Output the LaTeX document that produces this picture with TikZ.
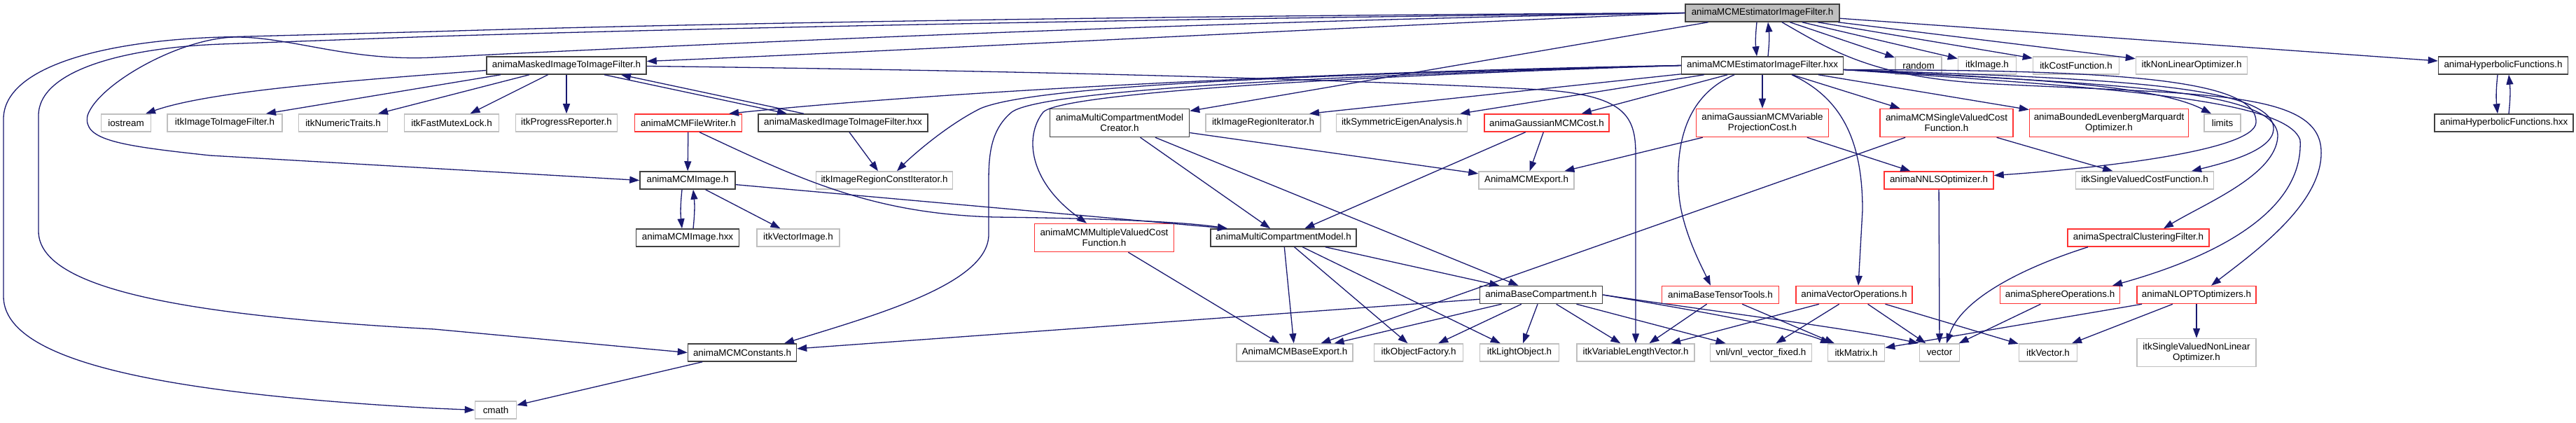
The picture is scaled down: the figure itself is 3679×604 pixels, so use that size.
\documentclass[tikz,border=0pt]{standalone}
\usepackage{fontspec}
\setmainfont{Liberation Sans}
\usepackage{tikz}
\usetikzlibrary{arrows.meta}
\definecolor{edgeblue}{RGB}{25,25,112}
\definecolor{docline}{RGB}{64,64,64}
\definecolor{extline}{RGB}{191,191,191}
\definecolor{cutline}{RGB}{255,51,51}
\definecolor{rootfill}{RGB}{191,191,191}
\def\RowA{18.5}
\def\RowB{93.5}
\def\RowC{175.5}
\def\RowD{257.5}
\def\RowE{339.5}
\def\RowF{421}
\def\RowG{503.5}
\def\RowH{585.5}
\tikzset{
  hdr/.style={
    draw=#1, fill=white, line width=1.5pt,
    minimum height=25pt, inner sep=0pt,
    align=center, font=\fontsize{13.4}{15}\selectfont,
  },
  hdr/.default=docline,
  twoline/.style={minimum height=40pt},
  dep/.style={-{Triangle[length=14pt,width=10pt]}, line width=1.3pt, draw=edgeblue},
}
\begin{document}
\begin{tikzpicture}[x=1pt,y=-1pt]
  \useasboundingbox (0,0) rectangle (3679,604);

  % row A
  \node[hdr, fill=rootfill, minimum width=220pt] (est) at (2517,\RowA) {animaMCMEstimatorImageFilter.h};

  % row B
  \node[hdr, minimum width=228pt] (maskh) at (809,\RowB) {animaMaskedImageToImageFilter.h};
  \node[hdr, minimum width=231pt] (esthxx) at (2517,\RowB) {animaMCMEstimatorImageFilter.hxx};
  \node[hdr=extline, minimum width=66pt] (rnd) at (2740,\RowB) {random};
  \node[hdr=extline, minimum width=83pt] (itkimg) at (2838,\RowB) {itkImage.h};
  \node[hdr=extline, minimum width=123pt] (costfn) at (2965,\RowB) {itkCostFunction.h};
  \node[hdr=extline, minimum width=159pt] (nonlin) at (3130,\RowB) {itkNonLinearOptimizer.h};
  \node[hdr, minimum width=185pt] (hyph) at (3575,\RowB) {animaHyperbolicFunctions.h};

  % row C
  \node[hdr=extline, minimum width=71pt] (iost) at (180,\RowC) {iostream};
  \node[hdr=extline, minimum width=164pt] (i2i) at (321,\RowC) {itkImageToImageFilter.h};
  \node[hdr=extline, minimum width=127pt] (numt) at (490,\RowC) {itkNumericTraits.h};
  \node[hdr=extline, minimum width=135pt] (mutex) at (645,\RowC) {itkFastMutexLock.h};
  \node[hdr=extline, minimum width=145pt] (prog) at (809,\RowC) {itkProgressReporter.h};
  \node[hdr=cutline, minimum width=153pt] (fwr) at (983,\RowC) {animaMCMFileWriter.h};
  \node[hdr, minimum width=242pt] (maskhxx) at (1204,\RowC) {animaMaskedImageToImageFilter.hxx};
  \node[hdr, twoline, minimum width=199pt] (creator) at (1599,\RowC) {animaMultiCompartmentModel\\Creator.h};
  \node[hdr=extline, minimum width=164pt] (rit) at (1804,\RowC) {itkImageRegionIterator.h};
  \node[hdr=extline, minimum width=187pt] (eig) at (2002,\RowC) {itkSymmetricEigenAnalysis.h};
  \node[hdr=cutline, minimum width=178pt] (gcost) at (2209,\RowC) {animaGaussianMCMCost.h};
  \node[hdr=cutline, twoline, minimum width=189pt] (vpcost) at (2517,\RowC) {animaGaussianMCMVariable\\ProjectionCost.h};
  \node[hdr=cutline, twoline, minimum width=190pt] (svcost) at (2780,\RowC) {animaMCMSingleValuedCost\\Function.h};
  \node[hdr=cutline, twoline, minimum width=227pt] (blm) at (3012,\RowC) {animaBoundedLevenbergMarquardt\\Optimizer.h};
  \node[hdr=extline, minimum width=52pt] (lim) at (3174,\RowC) {limits};
  \node[hdr, minimum width=198pt] (hyphxx) at (3576,\RowC) {animaHyperbolicFunctions.hxx};

  % row D
  \node[hdr, minimum width=136pt] (mcmimg) at (982,\RowD) {animaMCMImage.h};
  \node[hdr=extline, minimum width=195pt] (rcit) at (1263,\RowD) {itkImageRegionConstIterator.h};
  \node[hdr=extline, minimum width=136pt] (mcmexp) at (2180,\RowD) {AnimaMCMExport.h};
  \node[hdr=cutline, minimum width=156pt] (nnls) at (2769,\RowD) {animaNNLSOptimizer.h};
  \node[hdr=extline, minimum width=197pt] (svcf) at (3063,\RowD) {itkSingleValuedCostFunction.h};

  % row E
  \node[hdr, minimum width=147pt] (mcmimghxx) at (982,\RowE) {animaMCMImage.hxx};
  \node[hdr=extline, minimum width=118pt] (vimg) at (1140,\RowE) {itkVectorImage.h};
  \node[hdr=cutline, twoline, minimum width=199pt] (mvcost) at (1577,\RowE) {animaMCMMultipleValuedCost\\Function.h};
  \node[hdr, minimum width=208pt] (mcm) at (1833,\RowE) {animaMultiCompartmentModel.h};
  \node[hdr=cutline, minimum width=202pt] (spec) at (3054,\RowE) {animaSpectralClusteringFilter.h};

  % row F
  \node[hdr, minimum width=175pt] (basec) at (2201,\RowF) {animaBaseCompartment.h};
  \node[hdr=cutline, minimum width=167pt] (tensor) at (2457,\RowF) {animaBaseTensorTools.h};
  \node[hdr=cutline, minimum width=166pt] (vecops) at (2648,\RowF) {animaVectorOperations.h};
  \node[hdr=cutline, minimum width=171pt] (sphere) at (2942,\RowF) {animaSphereOperations.h};
  \node[hdr=cutline, minimum width=170pt] (nloptopt) at (3137,\RowF) {animaNLOPTOptimizers.h};

  % row G
  \node[hdr, minimum width=155pt] (mcmconst) at (1060,\RowG) {animaMCMConstants.h};
  \node[hdr=extline, minimum width=166pt] (bexp) at (1849,\RowG) {AnimaMCMBaseExport.h};
  \node[hdr=extline, minimum width=127pt] (objf) at (2026,\RowG) {itkObjectFactory.h};
  \node[hdr=extline, minimum width=113pt] (lobj) at (2170,\RowG) {itkLightObject.h};
  \node[hdr=extline, minimum width=168pt] (vlv) at (2336,\RowG) {itkVariableLengthVector.h};
  \node[hdr=extline, minimum width=145pt] (vnl) at (2515,\RowG) {vnl/vnl\_vector\_fixed.h};
  \node[hdr=extline, minimum width=81pt] (mat) at (2651,\RowG) {itkMatrix.h};
  \node[hdr=extline, minimum width=57pt] (vec) at (2770,\RowG) {vector};
  \node[hdr=extline, minimum width=83pt] (itkvec) at (2925,\RowG) {itkVector.h};
  \node[hdr=extline, twoline, minimum width=170pt] (svnlo) at (3137,\RowG) {itkSingleValuedNonLinear\\Optimizer.h};

  % row H
  \node[hdr=extline, minimum width=59pt] (cmath) at (708,\RowH) {cmath};

  % root includes
  \draw[dep] ([xshift=-8pt]est.south) to[bend right=6] ([xshift=-8pt]esthxx.north);
  \draw[dep] ([xshift=8pt]esthxx.north) to[bend right=6] ([xshift=8pt]est.south);
  \draw[dep] (est.west) .. controls (2000,35) and (1300,72) .. ([yshift=6pt]maskh.east);
  \draw[dep] (est.west) .. controls (1700,30) and (900,68) .. (620,82)
    .. controls (500,88) and (420,54) .. (340,53) .. controls (260,52) and (140,120) .. (125,165)
    .. controls (118,200) and (170,208) .. (300,222) -- (mcmimg.west);
  \draw[dep] (est.west) .. controls (1700,26) and (1000,40) .. (620,52) -- (316,63)
    .. controls (180,68) and (55,100) .. (55,165) -- (55,330)
    .. controls (55,410) and (250,450) .. (620,470) -- (mcmconst.west);
  \draw[dep] (est.west) .. controls (1700,22) and (1000,33) .. (620,45) -- (316,53)
    .. controls (150,58) and (5,95) .. (5,170) -- (5,423)
    .. controls (5,510) and (200,560) .. (620,583) -- (cmath.west);
  \draw[dep] (est) -- (creator);
  \draw[dep] (est) -- (rnd);
  \draw[dep] (est) -- (itkimg);
  \draw[dep] (est) -- (costfn);
  \draw[dep] (est) -- (nonlin);
  \draw[dep] (est) -- (hyph);
  \draw[dep] ([xshift=28pt]est.south) .. controls (2620,75) and (2680,112) .. (2850,120)
    .. controls (3150,135) and (3312,130) .. (3315,215)
    .. controls (3318,290) and (3220,360) .. ([xshift=21pt]nloptopt.north);

  % estimator hxx includes
  \draw[dep] (esthxx.west) .. controls (2000,100) and (1400,125) .. ([xshift=58pt]fwr.north);
  \draw[dep] (esthxx.west) .. controls (1800,108) and (1470,125) .. (1400,155)
    .. controls (1350,180) and (1300,225) .. ([xshift=18pt]rcit.north);
  \draw[dep] (esthxx.west) .. controls (1750,112) and (1480,135) .. (1445,160)
    .. controls (1415,185) and (1412,220) .. (1412,260) -- (1412,335)
    .. controls (1412,405) and (1250,450) .. ([xshift=60pt]mcmconst.north);
  \draw[dep] (esthxx.west) .. controls (1750,115) and (1510,140) .. (1490,160)
    .. controls (1462,195) and (1470,260) .. ([xshift=-25pt]mvcost.north);
  \draw[dep] (esthxx) -- ([xshift=66pt]rit.north);
  \draw[dep] (esthxx) -- (eig);
  \draw[dep] (esthxx) -- (gcost);
  \draw[dep] (esthxx) -- (vpcost);
  \draw[dep] (esthxx) -- (svcost);
  \draw[dep] (esthxx) -- (blm);
  \draw[dep] ([xshift=-40pt]esthxx.south) .. controls (2400,140) and (2393,220) .. (2398,280)
    .. controls (2403,330) and (2430,380) .. ([xshift=-14pt]tensor.north);
  \draw[dep] ([xshift=42pt]esthxx.south) .. controls (2630,140) and (2660,200) .. (2660,300)
    -- ([xshift=6pt]vecops.north);
  \draw[dep] ([yshift=-6pt]esthxx.east) .. controls (2900,112) and (3080,122) .. ([xshift=-16pt]lim.north);
  \draw[dep] ([yshift=-6pt]esthxx.east) .. controls (3000,100) and (3225,110) .. (3222,175)
    .. controls (3220,215) and (3000,240) .. ([yshift=7pt]nnls.east);
  \draw[dep] ([yshift=-6pt]esthxx.east) .. controls (3000,112) and (3250,120) .. (3247,185)
    .. controls (3245,215) and (3180,232) .. ([xshift=67pt]svcf.north);
  \draw[dep] ([yshift=-6pt]esthxx.east) .. controls (3000,120) and (3255,125) .. (3253,195)
    .. controls (3250,250) and (3150,290) .. ([xshift=36pt]spec.north);
  \draw[dep] ([yshift=-6pt]esthxx.east) .. controls (3000,125) and (3265,140) .. (3285,200)
    .. controls (3290,300) and (3170,365) .. ([xshift=75pt]sphere.north);

  % masked filter includes
  \draw[dep] ([yshift=-7pt]maskh.west) .. controls (500,115) and (300,130) .. ([xshift=28pt]iost.north);
  \draw[dep] ([xshift=-94pt]maskh.south) -- ([xshift=59pt]i2i.north);
  \draw[dep] ([xshift=-53pt]maskh.south) -- ([xshift=50pt]numt.north);
  \draw[dep] (maskh) -- (mutex);
  \draw[dep] (maskh) -- (prog);
  \draw[dep] ([xshift=54pt]maskh.south) -- ([xshift=-80pt]maskhxx.north);
  \draw[dep] ([xshift=-56pt]maskhxx.north) -- ([xshift=78pt]maskh.south);
  \draw[dep] ([xshift=9pt]maskhxx.south) -- ([xshift=-9pt]rcit.north);
  \draw[dep] ([yshift=-1pt]maskh.east) .. controls (1400,100) and (1900,112) .. (2200,128)
    .. controls (2320,136) and (2336,165) .. (2336,220) -- (vlv.north);

  % mcm image and writer
  \draw[dep] (fwr) -- (mcmimg);
  \draw[dep] ([xshift=16pt]fwr.south) .. controls (1150,260) and (1250,305) .. (1420,310)
    .. controls (1600,312) and (1700,318) .. ([xshift=-80pt]mcm.north);
  \draw[dep] ([xshift=-8pt]mcmimg.south) to[bend right=6] ([xshift=-8pt]mcmimghxx.north);
  \draw[dep] ([xshift=8pt]mcmimghxx.north) to[bend right=6] ([xshift=8pt]mcmimg.south);
  \draw[dep] (mcmimg) -- (vimg);
  \draw[dep] (mcmimg) -- ([xshift=-80pt]mcm.north);

  % cost functions and models
  \draw[dep] (creator) -- (mcm);
  \draw[dep] (creator) -- (basec);
  \draw[dep] (creator) -- (mcmexp);
  \draw[dep] (gcost) -- (mcmexp);
  \draw[dep] (gcost) -- (mcm);
  \draw[dep] (vpcost) -- (mcmexp);
  \draw[dep] (vpcost) -- (nnls);
  \draw[dep] (svcost) -- (bexp);
  \draw[dep] (svcost) -- (svcf);
  \draw[dep] (nnls) -- (vec);
  \draw[dep] (mvcost) -- (bexp);
  \draw[dep] (mcm) -- (bexp);
  \draw[dep] (mcm) -- (objf);
  \draw[dep] (mcm) -- (lobj);
  \draw[dep] (mcm) -- (basec);

  % base compartment and tools
  \draw[dep] (basec) -- (bexp);
  \draw[dep] (basec) -- (objf);
  \draw[dep] (basec) -- (lobj);
  \draw[dep] (basec) -- (vlv);
  \draw[dep] (basec) -- (vnl);
  \draw[dep] (basec) -- (mcmconst);
  \draw[dep] (basec.east) .. controls (2400,440) and (2550,465) .. ([xshift=-37pt]mat.north);
  \draw[dep] (basec.east) .. controls (2450,445) and (2650,470) .. ([xshift=-30pt]vec.north);
  \draw[dep] (tensor) -- (vlv);
  \draw[dep] (tensor) -- (mat);
  \draw[dep] (vecops) -- (vlv);
  \draw[dep] (vecops) -- (vnl);
  \draw[dep] (vecops) -- (vec);
  \draw[dep] (vecops) -- (itkvec);
  \draw[dep] (sphere) -- (vec);
  \draw[dep] ([xshift=-72pt]spec.south) .. controls (2880,385) and (2800,430) .. ([xshift=10pt]vec.north);
  \draw[dep] (nloptopt) -- (mat);
  \draw[dep] (nloptopt) -- (itkvec);
  \draw[dep] (nloptopt) -- (svnlo);
  \draw[dep] (mcmconst) -- (cmath);

  % hyperbolic functions
  \draw[dep] ([xshift=-8pt]hyph.south) to[bend right=6] ([xshift=-9pt]hyphxx.north);
  \draw[dep] ([xshift=7pt]hyphxx.north) to[bend right=6] ([xshift=8pt]hyph.south);
\end{tikzpicture}
\end{document}
